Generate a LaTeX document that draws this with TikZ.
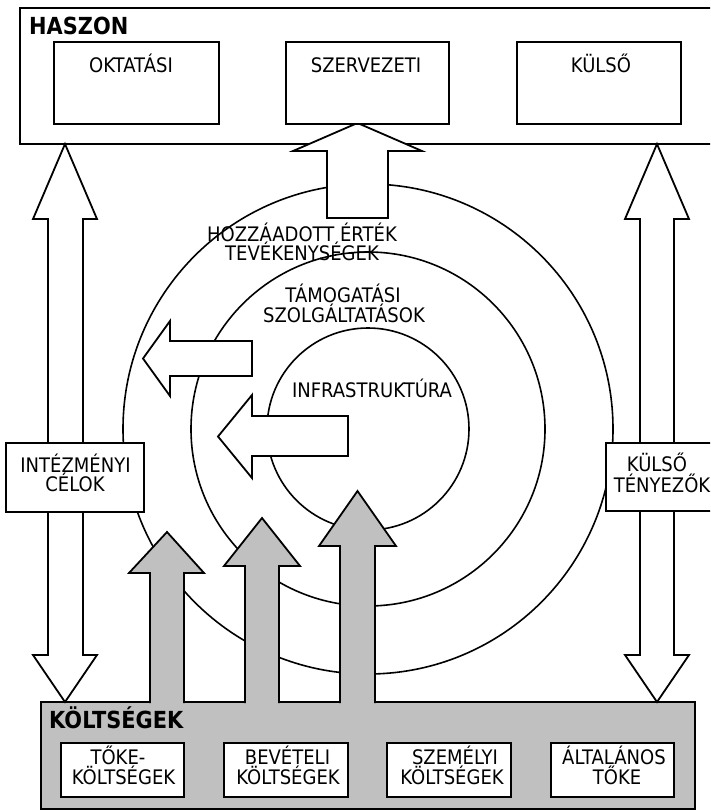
\documentclass[tikz,border=0pt]{standalone}
\usepackage{fontspec}
\setmainfont{DejaVu Sans}[FakeStretch=0.9]
\newfontfamily\headfont{DejaVu Sans}[FakeStretch=0.89]
\definecolor{silver}{RGB}{192,192,192}
\begin{document}
\begin{tikzpicture}[x=1pt,y=-1pt,
  box/.style={draw=black, line width=2pt, fill=white, inner sep=0pt, outer sep=0pt},
  costbox/.style={draw=black, line width=2pt, fill=silver, inner sep=0pt, outer sep=0pt},
  ring/.style={draw=black, line width=1.6pt},
  whitearrow/.style={draw=black, line width=1.8pt, fill=white, line join=miter},
  greyarrow/.style={draw=black, line width=1.8pt, fill=silver, line join=miter},
  lbl/.style={font=\fontsize{20}{22}\selectfont, text=black, inner sep=0pt, anchor=base},
  head/.style={font=\headfont\bfseries\fontsize{23.5}{26}\selectfont, text=black, inner sep=0pt, anchor=base west}]
\useasboundingbox (0,0) rectangle (710,811);
\clip (0,0) rectangle (710,811);

% outer frames
\node[box, minimum width=700pt, minimum height=136pt] (haszon) at (370,76) {};
\node[costbox, minimum width=654pt, minimum height=107pt] (koltseg) at (368,755.5) {};

% concentric rings
\draw[ring] (368,429) circle[radius=245pt];
\draw[ring] (368,429) circle[radius=177pt];
\draw[ring] (368,429) circle[radius=101pt];

% two-headed side arrows
\filldraw[whitearrow] (65,144) -- (97,219) -- (83,219) -- (83,655) -- (97,655) -- (65,702)
  -- (33,655) -- (48,655) -- (48,219) -- (33,219) -- cycle;
\filldraw[whitearrow] (657,144) -- (689,219) -- (674,219) -- (674,655) -- (689,655) -- (657,702)
  -- (625,655) -- (640,655) -- (640,219) -- (625,219) -- cycle;

% side boxes
\node[box, minimum width=138pt, minimum height=69pt] (celok) at (75,477.5) {};
\node[box, minimum width=114pt, minimum height=68pt] (tenyezok) at (663,477) {};

% arrow up into the benefit frame
\filldraw[whitearrow] (327,218) -- (327,151) -- (293,151) -- (357.5,123) -- (422,151)
  -- (388,151) -- (388,218) -- cycle;

% benefit boxes
\node[box, minimum width=165pt, minimum height=82pt] (oktatasi) at (136.5,83) {};
\node[box, minimum width=163pt, minimum height=82pt] (szervezeti) at (367.5,83) {};
\node[box, minimum width=164pt, minimum height=82pt] (kulso) at (599,83) {};

% arrows pointing outwards from the rings
\filldraw[whitearrow] (143,358.5) -- (170,321) -- (170,341) -- (252,341) -- (252,376)
  -- (170,376) -- (170,396) -- cycle;
\filldraw[whitearrow] (218,436.5) -- (252,395) -- (252,416) -- (348,416) -- (348,456)
  -- (252,456) -- (252,478) -- cycle;

% cost arrows
\filldraw[greyarrow] (150,703) -- (150,573) -- (129,573) -- (167,532) -- (204,573) -- (184,573) -- (184,703);
\filldraw[greyarrow] (245,703) -- (245,566) -- (224,566) -- (262,518) -- (300,566) -- (279,566) -- (279,703);
\filldraw[greyarrow] (340,703) -- (340,546) -- (319,546) -- (357.5,491) -- (396,546) -- (375,546) -- (375,703);

% cost boxes
\node[box, minimum width=123pt, minimum height=54pt] (toke) at (122.5,770) {};
\node[box, minimum width=124pt, minimum height=54pt] (beveteli) at (286,770) {};
\node[box, minimum width=124pt, minimum height=54pt] (szemelyi) at (449,770) {};
\node[box, minimum width=123pt, minimum height=54pt] (altalanos) at (612.5,770) {};

% headings
\node[head] (t-haszon) at (29,34) {HASZON};
\node[head] (t-koltseg) at (49,728) {KÖLTSÉGEK};

% labels
\node[lbl] (t-okt) at (131,72) {OKTATÁSI};
\node[lbl] (t-szerv) at (366,72) {SZERVEZETI};
\node[lbl] (t-kulso) at (601,72) {KÜLSŐ};

\node[lbl] (t-hoz1) at (302,241) {HOZZÁADOTT ÉRTÉK};
\node[lbl] (t-hoz2) at (302,260) {TEVÉKENYSÉGEK};
\node[lbl] (t-tam1) at (343,302) {TÁMOGATÁSI};
\node[lbl] (t-tam2) at (344,322) {SZOLGÁLTATÁSOK};
\node[lbl] (t-infra) at (372,397) {INFRASTRUKTÚRA};

\node[lbl] (t-int1) at (75.5,472) {INTÉZMÉNYI};
\node[lbl] (t-int2) at (75,491.5) {CÉLOK};
\node[lbl] (t-kt1) at (657,471) {KÜLSŐ};
\node[lbl] (t-kt2) at (662,492) {TÉNYEZŐK};

\node[lbl] (t-tok1) at (118,764) {TŐKE-};
\node[lbl] (t-tok2) at (123.5,784) {KÖLTSÉGEK};
\node[lbl] (t-bev1) at (287.5,764) {BEVÉTELI};
\node[lbl] (t-bev2) at (288,784) {KÖLTSÉGEK};
\node[lbl] (t-szem1) at (455,764) {SZEMÉLYI};
\node[lbl] (t-szem2) at (452,784) {KÖLTSÉGEK};
\node[lbl] (t-alt1) at (614,764) {ÁLTALÁNOS};
\node[lbl] (t-alt2) at (617,784) {TŐKE};
\end{tikzpicture}
\end{document}
